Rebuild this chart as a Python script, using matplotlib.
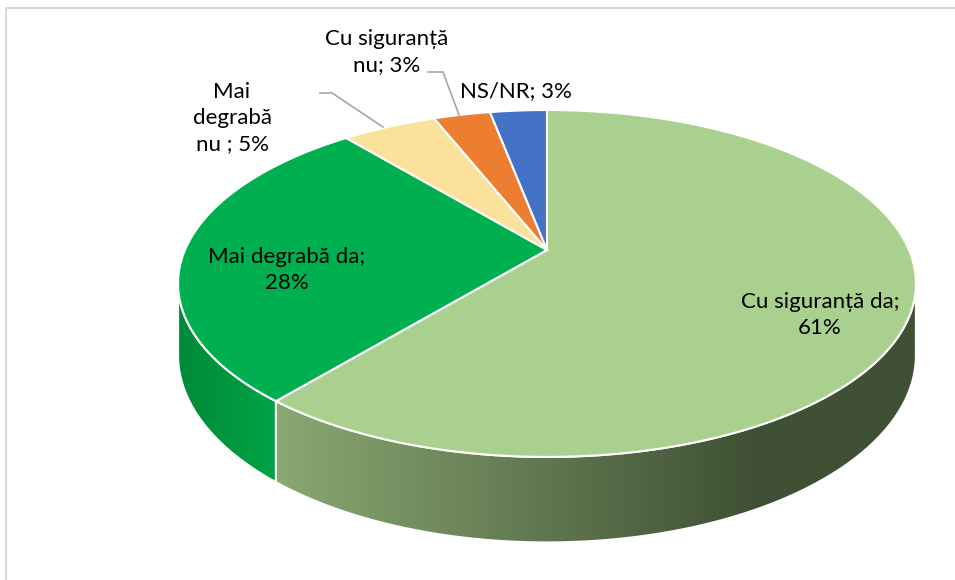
import numpy as np
import matplotlib.pyplot as plt
import matplotlib.colors as mcolors
from matplotlib.patches import Polygon

# date
labels = ["Cu siguranță da", "Mai degrabă da", "Mai\ndegrabă\nnu ", "Cu siguranță\nnu", "NS/NR"]
values = [61, 28, 5, 3, 3]
seps = [";\n", ";\n", "; ", "; ", "; "]
top_colors = ["#A9D08E", "#00B050", "#FAE29B", "#ED7D31", "#4472C4"]

plt.rcParams['font.family'] = ['Lato', 'DejaVu Sans']

# geometrie (pixeli)
cx, cy = 547, 250
A, a, b = 362, 167, -0.193
h0 = 69


def proj(theta, down=0.0):
    # theta: unghi in sens orar de la ora 12
    u = np.sin(theta)
    v = -np.cos(theta)
    s = 1 / (1 + b * v)
    return cx + A * u * s, cy + a * v * s + down * h0 * s


fig = plt.figure(figsize=(9.55, 5.8), dpi=100)
ax = fig.add_axes([0, 0, 1, 1])
ax.set_xlim(0, 955)
ax.set_ylim(580, 0)
ax.axis("off")

# chenar
ax.plot([6, 6, 955], [580, 8, 8], color="#D9D9D9", lw=1.5)

fracs = np.array(values) / sum(values)
bounds = np.concatenate([[0], np.cumsum(fracs)]) * 2 * np.pi
sil_r = np.arccos(b)          # silueta dreapta
sil_l = 2 * np.pi - sil_r     # silueta stanga

# pereti laterali
side_grads = [
    [(0.0, "#89A872"), (0.75, "#3F5034"), (1.0, "#3F5034")],
    [(0.0, "#008A38"), (1.0, "#00A346")],
]
for i in range(2):
    t0 = max(bounds[i], sil_r)
    t1 = min(bounds[i + 1], sil_l)
    if t1 <= t0:
        continue
    th = np.linspace(t0, t1, 200)
    xt, yt = proj(th)
    xb, yb = proj(th[::-1], 1.0)
    pts = np.column_stack([np.concatenate([xt, xb]), np.concatenate([yt, yb])])
    poly = Polygon(pts, closed=True, facecolor="none", edgecolor="white", lw=1.5, zorder=3)
    ax.add_patch(poly)
    x0, x1 = pts[:, 0].min(), pts[:, 0].max()
    y0, y1 = pts[:, 1].min(), pts[:, 1].max()
    cmap = mcolors.LinearSegmentedColormap.from_list("g%d" % i, side_grads[i])
    grad = np.linspace(0, 1, 256)[None, :]
    im = ax.imshow(grad, cmap=cmap, extent=[x0, x1, y1, y0], aspect="auto", zorder=2)
    im.set_clip_path(poly)

ax.set_xlim(0, 955)
ax.set_ylim(580, 0)

# fata de sus
for i in range(len(values)):
    th = np.linspace(bounds[i], bounds[i + 1], 200)
    xt, yt = proj(th)
    pts = np.column_stack([np.concatenate([[cx], xt]), np.concatenate([[cy], yt])])
    ax.add_patch(Polygon(pts, closed=True, facecolor=top_colors[i], edgecolor="white",
                         lw=1.5, zorder=4))

# etichete
fs = 16
label_pos = [(820, 315), (287, 270), (232, 118), (387, 52), (516, 91)]
for i, (lx, ly) in enumerate(label_pos):
    ax.text(lx, ly, f"{labels[i]}{seps[i]}{values[i]}%", ha="center", va="center",
            fontsize=fs, color="#000000", linespacing=1.4, zorder=6)

# linii de legatura
ax.plot([320, 332, 383], [93, 93, 127], color="#A6A6A6", lw=1.2, zorder=5)
ax.plot([428, 443, 459], [72, 72, 115], color="#A6A6A6", lw=1.2, zorder=5)

fig.savefig("out.png", dpi=100)
